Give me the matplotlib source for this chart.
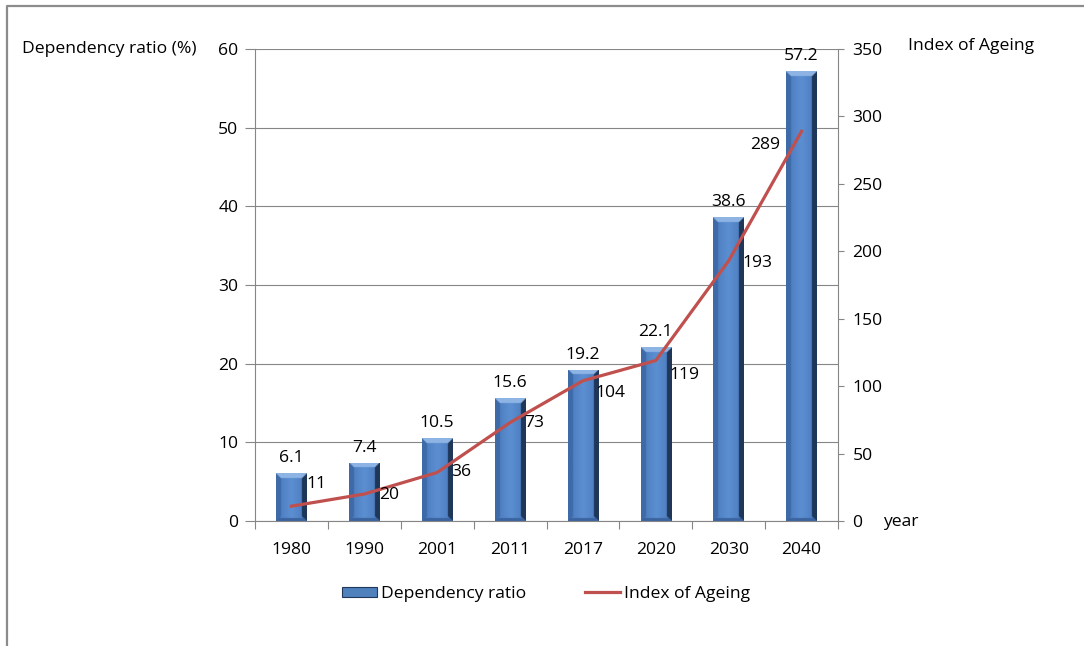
import numpy as np
import matplotlib
matplotlib.use("Agg")
import matplotlib.pyplot as plt
from matplotlib.lines import Line2D
from matplotlib.patches import Patch
from matplotlib.colors import to_rgb

# Data
years = ["1980", "1990", "2001", "2011", "2017", "2020", "2030", "2040"]
dependency_ratio = [6.1, 7.4, 10.5, 15.6, 19.2, 22.1, 38.6, 57.2]
index_of_ageing = [11, 20, 36, 73, 104, 119, 193, 289]
left_ticks = [0, 10, 20, 30, 40, 50, 60]
right_ticks = [0, 50, 100, 150, 200, 250, 300, 350]

# Label offsets (pixels) for the ageing index values
ageing_label_offsets = [(25, 22), (25, -1), (24, 0), (24, 0),
                        (28, -12), (29, -14), (29, -2), (-36, -14)]

plt.rcParams["font.family"] = ["Open Sans", "DejaVu Sans"]
FS = 12.6
GRAY = "#868686"
BAR = "#4F81BD"
LINE = "#C0504D"

fig = plt.figure(figsize=(10.84, 6.46), dpi=100)
ax = fig.add_axes([255 / 1084, 1 - 521 / 646, (838 - 255) / 1084, (521 - 49) / 646])

x = np.arange(len(years))
bar_w = 0.42
bars = ax.bar(x, dependency_ratio, width=bar_w, color=BAR, zorder=2)


def bevel_image(w_px, h_px, b=5):
    """Shaded block image: light top, dark right/bottom, lighter centre."""
    w_px = max(int(round(w_px)), 2)
    h_px = max(int(round(h_px)), 2)
    xs = np.arange(w_px) + 0.5
    ys = np.arange(h_px) + 0.5
    X, Y = np.meshgrid(xs, ys)
    dl, dr, dt, db = X, w_px - X, Y, h_px - Y
    u = X / w_px
    c_side = np.array(to_rgb("#4878BA"))
    c_mid = np.array(to_rgb("#5C8FD2"))
    t = 1 - np.abs(u - 0.5) * 2
    img = c_side[None, None, :] * (1 - t[..., None]) + c_mid[None, None, :] * t[..., None]
    faces = {
        "left": (dl, np.array(to_rgb("#3E6BA8")), b),
        "right": (dr, np.array(to_rgb("#1F3759")), b),
        "top": (dt, np.array(to_rgb("#8DB4E4")), b),
        "bottom": (db, np.array(to_rgb("#3A64A0")), b * 0.6),
    }
    dmin = np.minimum.reduce([dl, dr, dt, db])
    for name in ["left", "right", "bottom", "top"]:
        d, col, size = faces[name]
        m = (d <= dmin) & (d < size)
        img[m] = col
    return img


px_per_unit_y = 472 / 60
px_per_unit_x = 583 / 8
for rect, v in zip(bars, dependency_ratio):
    x0 = rect.get_x()
    w = rect.get_width()
    img = bevel_image(w * px_per_unit_x * 2, v * px_per_unit_y * 2, b=10)
    im = ax.imshow(img, extent=(x0, x0 + w, 0, v), aspect="auto",
                   interpolation="bilinear", zorder=2.5, origin="upper")
    im.set_clip_path(rect)

for xi, v in zip(x, dependency_ratio):
    ax.annotate(f"{v}", (xi, v), xytext=(0, 7), textcoords="offset pixels",
                ha="center", va="bottom", fontsize=FS, color="black", zorder=5)

ax.set_xlim(-0.5, len(years) - 0.5)
ax.set_ylim(0, 60)
ax.set_yticks(left_ticks)
ax.set_xticks(x)
ax.set_xticklabels(years)
ax.set_xticks(np.arange(-0.5, len(years)), minor=True)
ax.tick_params(axis="x", which="major", length=0, pad=15, labelsize=FS)
ax.tick_params(axis="x", which="minor", length=6, width=0.8, color=GRAY, direction="out")
ax.tick_params(axis="y", length=7, width=0.8, color=GRAY, pad=5, labelsize=FS)
ax.grid(axis="y", color=GRAY, linewidth=0.8)
ax.set_axisbelow(True)
for s in ["top", "right"]:
    ax.spines[s].set_visible(False)
for s in ["left", "bottom"]:
    ax.spines[s].set_color(GRAY)
    ax.spines[s].set_linewidth(0.8)

ax2 = ax.twinx()
ax2.plot(x, index_of_ageing, color=LINE, linewidth=2.3, zorder=3)
ax2.set_ylim(0, 350)
ax2.set_yticks(right_ticks)
ax2.tick_params(axis="y", length=4.5, width=0.8, color=GRAY, pad=6, labelsize=FS)
for s in ["top", "left", "bottom"]:
    ax2.spines[s].set_visible(False)
ax2.spines["right"].set_color(GRAY)
ax2.spines["right"].set_linewidth(0.8)
for xi, v, off in zip(x, index_of_ageing, ageing_label_offsets):
    ax2.annotate(f"{v}", (xi, v), xytext=off, textcoords="offset pixels",
                 ha="center", va="center", fontsize=FS, color="black")

# Axis titles
fig.text(22 / 1084, 1 - 49 / 646, "Dependency ratio (%)", ha="left", va="center", fontsize=FS)
fig.text(908 / 1084, 1 - 46 / 646, "Index of Ageing", ha="left", va="center", fontsize=FS)
fig.text(883 / 1084, 1 - 522 / 646, "year", ha="left", va="center", fontsize=FS)

# Legend
handles = [Patch(facecolor=BAR, edgecolor="#1F3759", linewidth=0.8),
           Line2D([0], [0], color=LINE, linewidth=2.3)]
fig.legend(handles, ["Dependency ratio", "Index of Ageing"], loc="center",
           bbox_to_anchor=(546 / 1084, 1 - 594 / 646), ncol=2, frameon=False,
           fontsize=FS, handlelength=2.0, handleheight=0.5, handletextpad=0.2,
           columnspacing=3.4)

# Frame around the chart area
fig.add_artist(Line2D([7 / 1084, 7 / 1084, 1.0], [0.0, 1 - 6 / 646, 1 - 6 / 646],
                      transform=fig.transFigure, color="#8C8C8C", linewidth=1.6))

fig.savefig("out.png", dpi=100)
